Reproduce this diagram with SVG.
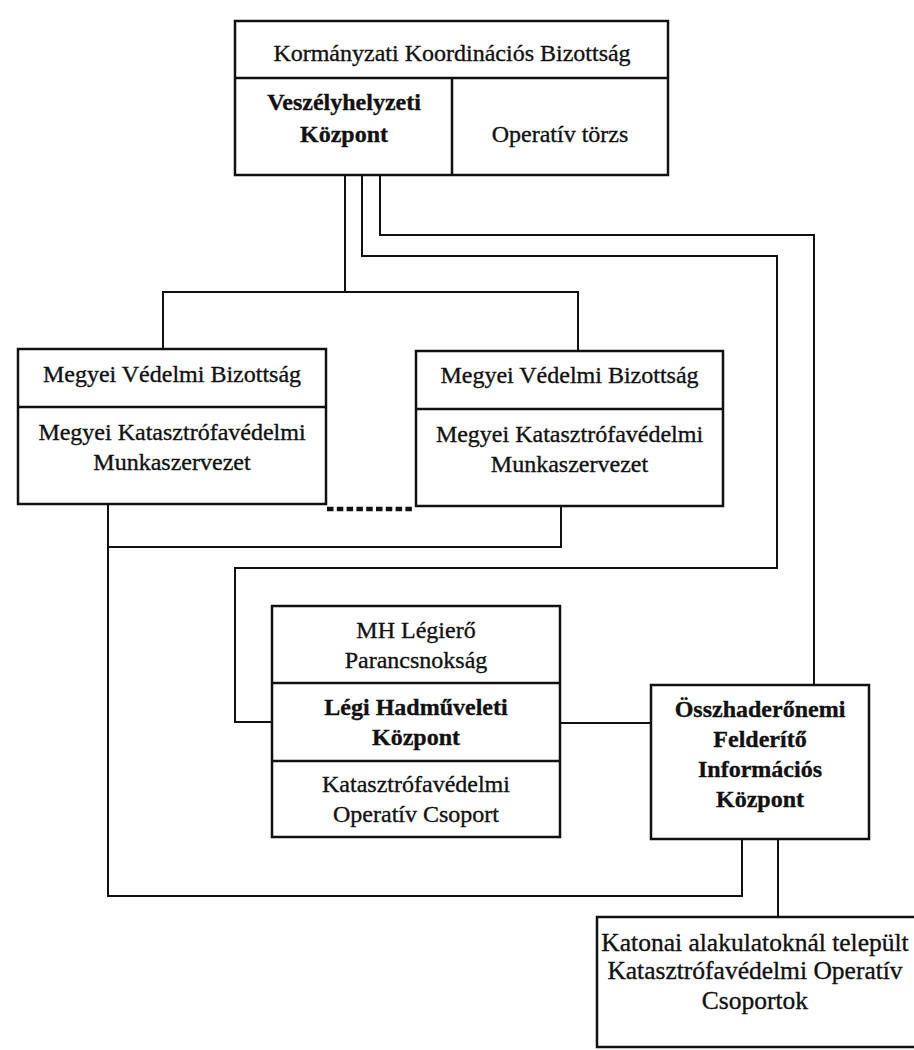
<svg xmlns="http://www.w3.org/2000/svg" width="914" height="1050" viewBox="0 0 914 1050">
<style>
.box{fill:#fff;stroke:#111;stroke-width:2.5}
.div{stroke:#111;stroke-width:2.5;fill:none}
.con{fill:none;stroke:#111;stroke-width:2;stroke-linejoin:miter}
.dot{fill:none;stroke:#111;stroke-width:4.5;stroke-dasharray:6.5 3.3}
text{font-family:"Liberation Serif","Times New Roman",serif;font-size:24px;fill:#111;stroke:#111;stroke-width:0.35;text-anchor:middle}
.b{font-weight:bold}
.s{font-size:25.5px}
</style>
<rect width="914" height="1050" fill="#fff"/>
<g id="connectors">
<path class="con" d="M345,175 V292 M163,349 V292 H578 V351"/>
<path class="con" d="M362,175 V256 H777 V568 H235 V722 H272"/>
<path class="con" d="M380,175 V235 H814 V685"/>
<path class="con" d="M108,504 V896 H742 V839"/>
<path class="con" d="M108,547 H561 V506"/>
<path class="con" d="M560,723 H651"/>
<path class="con" d="M778,839 V917"/>
<path class="dot" d="M327,509 H414"/>
</g>
<g id="kormanyzati">
<rect class="box" x="235" y="21" width="433" height="154"/>
<path class="div" d="M235,78 H668 M452,78 V175"/>
<text x="452" y="61">Kormányzati Koordinációs Bizottság</text>
<text class="b" x="344" y="110">Veszélyhelyzeti</text>
<text class="b" x="344" y="142">Központ</text>
<text x="560" y="142">Operatív törzs</text>
</g>
<g id="megyei-1">
<rect class="box" x="18" y="349" width="308" height="155"/>
<path class="div" d="M18,407 H326"/>
<text x="172" y="382">Megyei Védelmi Bizottság</text>
<text x="172" y="440">Megyei Katasztrófavédelmi</text>
<text x="172" y="470">Munkaszervezet</text>
</g>
<g id="megyei-2">
<rect class="box" x="416" y="351" width="307" height="155"/>
<path class="div" d="M416,409 H723"/>
<text x="569.5" y="383">Megyei Védelmi Bizottság</text>
<text x="569.5" y="442">Megyei Katasztrófavédelmi</text>
<text x="569.5" y="472">Munkaszervezet</text>
</g>
<g id="legiero">
<rect class="box" x="272" y="606" width="288" height="231"/>
<path class="div" d="M272,683 H560 M272,761 H560"/>
<text x="416" y="638">MH Légierő</text>
<text x="416" y="668">Parancsnokság</text>
<text class="b" x="416" y="715">Légi Hadműveleti</text>
<text class="b" x="416" y="745">Központ</text>
<text x="416" y="792">Katasztrófavédelmi</text>
<text x="416" y="822">Operatív Csoport</text>
</g>
<g id="osszhaderonemi">
<rect class="box" x="651" y="685" width="218" height="154"/>
<text class="b" x="760" y="717">Összhaderőnemi</text>
<text class="b" x="760" y="747">Felderítő</text>
<text class="b" x="760" y="777">Információs</text>
<text class="b" x="760" y="807">Központ</text>
</g>
<g id="katonai">
<rect class="box" x="597" y="917" width="340" height="130"/>
<text class="s" x="755" y="951">Katonai alakulatoknál települt</text>
<text class="s" x="755" y="979">Katasztrófavédelmi Operatív</text>
<text class="s" x="755" y="1009">Csoportok</text>
</g>
</svg>
